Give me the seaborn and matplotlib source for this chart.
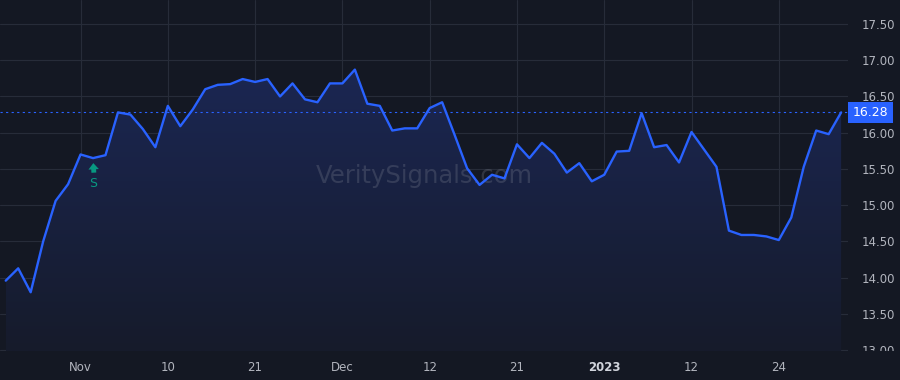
import pandas as pd
import seaborn as sns
import matplotlib.pyplot as plt
import numpy as np
from matplotlib.transforms import Bbox, TransformedBbox
from matplotlib.colors import LinearSegmentedColormap

# trading days shown on the chart (Oct 24 2022 .. Jan 31 2023)
holidays = ['2022-11-24', '2022-12-26', '2023-01-02', '2023-01-16']
dates = pd.bdate_range('2022-10-24', '2023-01-31', freq='C', holidays=holidays)

close = [13.96, 14.13, 13.80, 14.50, 15.06, 15.29, 15.70, 15.65, 15.69, 16.28,
         16.25, 16.05, 15.80, 16.37, 16.09, 16.32, 16.60, 16.66, 16.67, 16.74,
         16.70, 16.74, 16.50, 16.68, 16.46, 16.42, 16.68, 16.68, 16.87, 16.40,
         16.37, 16.03, 16.06, 16.06, 16.34, 16.42, 15.97, 15.51, 15.28, 15.42,
         15.37, 15.84, 15.65, 15.86, 15.71, 15.45, 15.58, 15.33, 15.42, 15.74,
         15.75, 16.27, 15.80, 15.83, 15.59, 16.01, 15.77, 15.53, 14.65, 14.59,
         14.59, 14.57, 14.52, 14.83, 15.53, 16.03, 15.98, 16.28]

tick_dates = ['2022-11-01', '2022-11-10', '2022-11-21', '2022-12-01', '2022-12-12',
              '2022-12-21', '2023-01-03', '2023-01-12', '2023-01-24']
tick_labels = ['Nov', '10', '21', 'Dec', '12', '21', '2023', '12', '24']
y_ticks = [13.0, 13.5, 14.0, 14.5, 15.0, 15.5, 16.0, 16.5, 17.0, 17.5]

signal_date = '2022-11-02'
signal_label = 'S'
last_price = close[-1]

df = pd.DataFrame({'date': dates, 'close': close})
df['pos'] = np.arange(len(df))

bg = '#141823'
grid = '#272c39'
blue = '#2962ff'
txt = '#b2b5be'
green = '#089981'

sns.set_style('dark')
plt.rcParams['font.family'] = ['DejaVu Sans']

fig = plt.figure(figsize=(9, 3.8), dpi=100, facecolor=bg)
ax = fig.add_axes([0, 29 / 380, 848 / 900, 351 / 380])
ax.set_facecolor(bg)

ax.set_xlim(-0.46, 67.55)
ax.set_ylim(12.99, 17.83)

# gradient fill under the line
poly = ax.fill_between(df['pos'], df['close'], 12.99, color='none', lw=0)
grad = np.linspace(0, 1, 256).reshape(-1, 1)
cmap = LinearSegmentedColormap.from_list('fill', ['#161b2b', '#1b2754'])
img = ax.imshow(grad, extent=[0, len(df) - 1, 12.99, 17.0], origin='lower',
                aspect='auto', cmap=cmap, zorder=1)
img.set_clip_path(poly.get_paths()[0], transform=ax.transData)

sns.lineplot(data=df, x='pos', y='close', ax=ax, color=blue, lw=1.7, zorder=3)

# last price dotted line
ax.axhline(last_price, color=blue, lw=0.8, ls=(0, (2, 3)), zorder=2)

# grid
tick_pos = [int(df.index[df['date'] == pd.Timestamp(d)][0]) for d in tick_dates]
ax.set_xticks(tick_pos)
ax.set_xticklabels(tick_labels)
ax.set_yticks(y_ticks)
ax.grid(True, color=grid, lw=0.8)
ax.set_axisbelow(True)
for s in ax.spines.values():
    s.set_visible(False)
ax.set_xlabel('')
ax.set_ylabel('')

ax.yaxis.tick_right()
ax.tick_params(axis='y', length=0, pad=10, labelsize=8.5, labelcolor=txt)
ax.tick_params(axis='x', length=0, pad=7, labelsize=8.5, labelcolor=txt)
ax.set_yticklabels([f'{v:.2f}' for v in y_ticks])
for lbl in ax.get_xticklabels():
    if lbl.get_text() == '2023':
        lbl.set_fontweight('bold')
        lbl.set_color('#d1d4dc')

# clip the bottom y label like the original
clip = TransformedBbox(Bbox([[0.9, 29 / 380], [1, 1]]), fig.transFigure)
for lbl in ax.get_yticklabels():
    lbl.set_clip_box(clip)
    lbl.set_clip_on(True)

# price tag
ax.annotate(f'{last_price:.2f}', xy=(1, last_price), xycoords=('axes fraction', 'data'),
            xytext=(3.5, 0), textcoords='offset points', ha='left', va='center',
            fontsize=9, color='white', annotation_clip=False,
            bbox=dict(boxstyle='square,pad=0.35', fc=blue, ec='none'))

# buy signal marker
sig = df[df['date'] == pd.Timestamp(signal_date)].iloc[0]
ax.annotate('', xy=(sig['pos'], sig['close']), xytext=(0.6, -10.5),
            textcoords='offset points', zorder=4,
            arrowprops=dict(arrowstyle='simple,head_width=0.75,head_length=0.45,tail_width=0.35',
                            fc=green, ec='none', shrinkA=0, shrinkB=3.6,
                            mutation_scale=10))
ax.annotate(signal_label, xy=(sig['pos'], sig['close']), xytext=(0, -18),
            textcoords='offset points', ha='center', va='center',
            fontsize=9, color=green, zorder=4)

# watermark
ax.text(0.5, 0.5, 'VeritySignals.com', transform=ax.transAxes, ha='center',
        va='center', fontsize=17.5, color='#8a8f9c', alpha=0.25, zorder=2)

fig.savefig('out.png', dpi=100, facecolor=bg)
